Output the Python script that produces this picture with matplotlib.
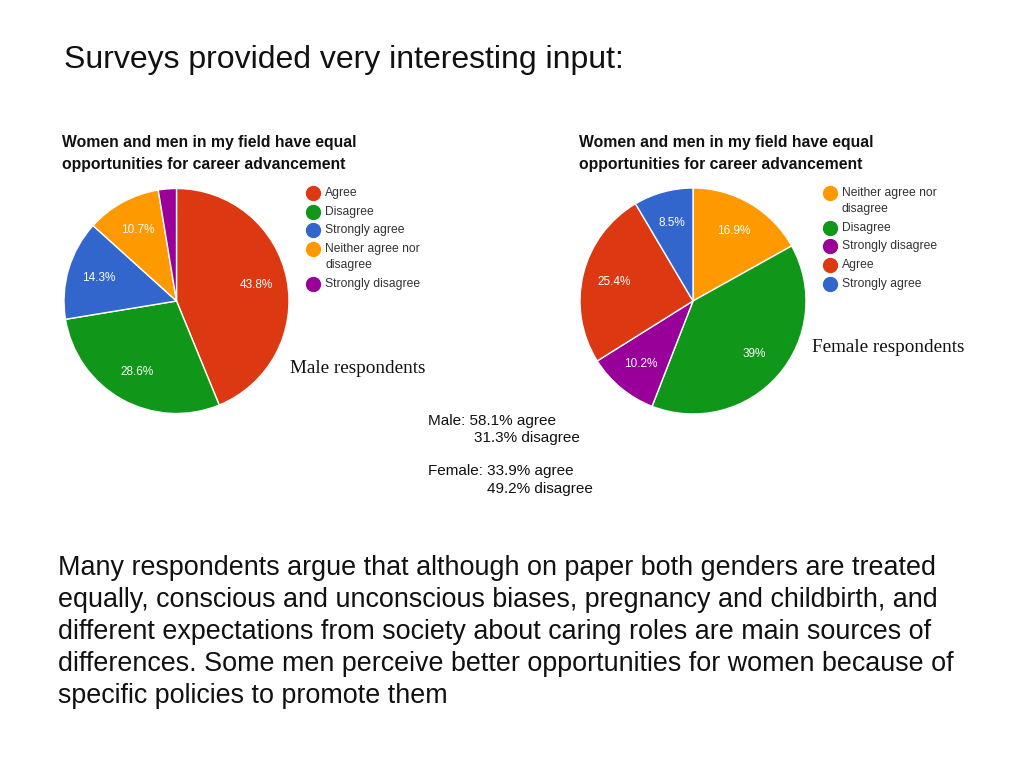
import matplotlib
matplotlib.use("Agg")
import matplotlib.pyplot as plt
from matplotlib.lines import Line2D

# ---- data ----
male_labels = ["Agree", "Disagree", "Strongly agree", "Neither agree nor\ndisagree", "Strongly disagree"]
male_values = [43.8, 28.6, 14.3, 10.7, 2.6]
male_colors = ["#DC3912", "#109618", "#3366CC", "#FF9900", "#990099"]

female_labels = ["Neither agree nor\ndisagree", "Disagree", "Strongly disagree", "Agree", "Strongly agree"]
female_values = [16.9, 39.0, 10.2, 25.4, 8.5]
female_colors = ["#FF9900", "#109618", "#990099", "#DC3912", "#3366CC"]

chart_title = "Women and men in my field have equal\nopportunities for career advancement"
slide_title = "Surveys provided very interesting input:"
summary_lines = [("Male: 58.1% agree", 428, 421), ("31.3% disagree", 474, 438),
                 ("Female: 33.9% agree", 428, 471), ("49.2% disagree", 487, 489)]
paragraph = ("Many respondents argue that although on paper both genders are treated\n"
             "equally, conscious and unconscious biases, pregnancy and childbirth, and\n"
             "different expectations from society about caring roles are main sources of\n"
             "differences. Some men perceive better opportunities for women because of\n"
             "specific policies to promote them")

W, H = 1024, 768
plt.rcParams['font.family'] = ['Liberation Sans', 'DejaVu Sans']
fig = plt.figure(figsize=(W / 100, H / 100), dpi=100)
fig.patch.set_facecolor("white")


def px(x, y):
    return x / W, 1 - y / H


def fmt(p):
    if p < 5:
        return ""
    r = round(p, 1)
    return f"{r:g}%"


def draw_legend(labels, colors, x0, y0, row=18.7, line=16):
    y = y0
    for lab, c in zip(labels, colors):
        mx, my = px(x0, y)
        fig.add_artist(Line2D([mx], [my], marker="o", linestyle="", markersize=10,
                              markerfacecolor=c, markeredgecolor=c, transform=fig.transFigure))
        parts = lab.split("\n")
        for i, part in enumerate(parts):
            fig.text(*px(x0 + 12, y + line * i), part, fontsize=8.7, color="#333333",
                     ha="left", va="center")
        y += row + line * (len(parts) - 1)


def draw_pie(cx, cy, r, values, colors, labels, legend_x, legend_y, title_x, title_y, caption, cap_x, cap_y):
    ax = fig.add_axes([(cx - r) / W, 1 - (cy + r) / H, 2 * r / W, 2 * r / H])
    ax.pie(values, colors=colors, startangle=90, counterclock=False,
           autopct=fmt, pctdistance=0.72,
           wedgeprops=dict(edgecolor="white", linewidth=1.0),
           textprops=dict(color="white", fontsize=8.5))
    ax.set_xlim(-1, 1)
    ax.set_ylim(-1, 1)
    ax.set_aspect("equal")
    ax.axis("off")
    draw_legend(labels, colors, legend_x, legend_y)
    fig.text(*px(title_x, title_y), chart_title, fontsize=11.3, fontweight="bold",
             ha="left", va="top", linespacing=1.5, color="#111111")
    fig.text(*px(cap_x, cap_y), caption, fontsize=13.8, family="Liberation Serif",
             ha="left", va="center", color="#111111")


draw_pie(176.5, 301, 112.5, male_values, male_colors, male_labels,
         313, 193, 62, 135.5, "Male respondents", 290, 368)
draw_pie(693, 301, 113, female_values, female_colors, female_labels,
         830, 193, 579, 135.5, "Female respondents", 812, 347)

fig.text(*px(64, 60), slide_title, fontsize=23, ha="left", va="center", color="#111111")
for s, x, y in summary_lines:
    fig.text(*px(x, y), s, fontsize=11, ha="left", va="center", color="#111111")
fig.text(*px(58, 555), paragraph, fontsize=19.4, ha="left", va="top", linespacing=1.3, color="#111111")

fig.savefig("out.png", dpi=100, facecolor="white")
